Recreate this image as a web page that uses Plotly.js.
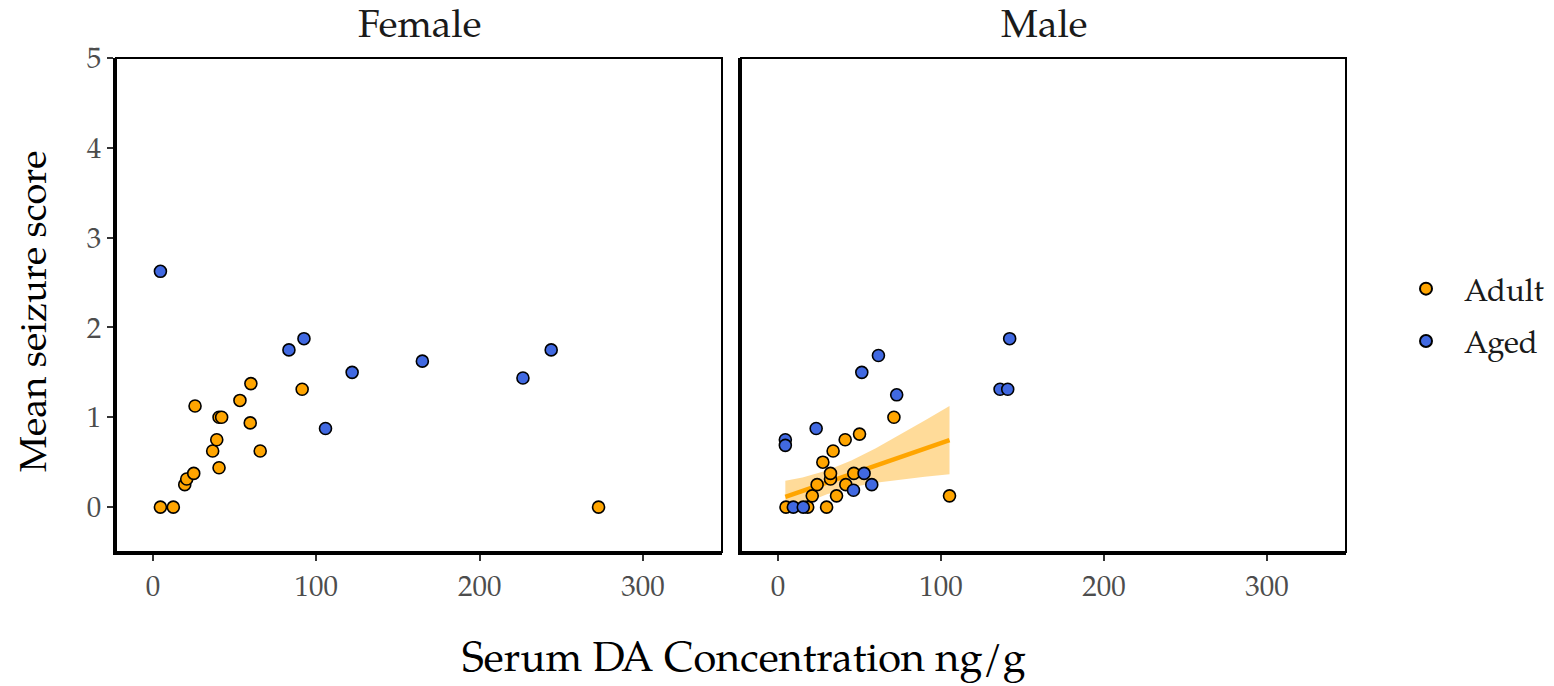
<!DOCTYPE html>
<html>
<head>
<meta charset="utf-8">
<script src="https://cdn.plot.ly/plotly-3.0.1.min.js"></script>
<style>
  html, body { margin: 0; padding: 0; background: #ffffff; }
  #chart { width: 1554px; height: 686px; }
</style>
</head>
<body>
<div id="chart"></div>
<script>
// ---- Data ----
const facets = ["Female", "Male"];
const groups = ["Adult", "Aged"];

const femaleAdultX = [4.5, 12.4, 19.4, 20.6, 24.9, 25.7, 36.5, 39.0, 40.4, 40.4, 42.0, 53.2, 59.5, 59.9, 65.6, 91.3, 272.8];
const femaleAdultY = [0, 0, 0.25, 0.3125, 0.375, 1.125, 0.625, 0.75, 0.4375, 1.0, 1.0, 1.1875, 0.9375, 1.375, 0.625, 1.3125, 0];

const femaleAgedX = [4.5, 83.2, 92.4, 105.6, 121.9, 164.9, 226.5, 243.8];
const femaleAgedY = [2.625, 1.75, 1.875, 0.875, 1.5, 1.625, 1.4375, 1.75];

const maleAdultX = [4.9, 18.2, 29.8, 21.0, 35.9, 105.2, 24.0, 41.6, 32.2, 32.2, 46.5, 27.5, 33.8, 41.2, 50.0, 71.1];
const maleAdultY = [0, 0, 0, 0.125, 0.125, 0.125, 0.25, 0.25, 0.3125, 0.375, 0.375, 0.5, 0.625, 0.75, 0.8125, 1.0];

const maleAgedX = [9.4, 15.5, 4.5, 4.5, 23.4, 46.3, 57.5, 52.8, 51.4, 61.6, 72.8, 136.2, 140.9, 142.1];
const maleAgedY = [0, 0, 0.75, 0.6875, 0.875, 0.1875, 0.25, 0.375, 1.5, 1.6875, 1.25, 1.3125, 1.3125, 1.875];

// Fitted trend (Male, Adult) and its confidence band
const fitX     = [4.5, 15, 30, 45, 60, 75, 90, 105.2];
const fitY     = [0.115, 0.181, 0.275, 0.369, 0.463, 0.557, 0.651, 0.746];
const fitUpper = [0.293, 0.330, 0.406, 0.518, 0.656, 0.807, 0.964, 1.125];
const fitLower = [-0.063, 0.032, 0.144, 0.220, 0.270, 0.307, 0.338, 0.367];

const xTicks = [0, 100, 200, 300];
const yTicks = [0, 1, 2, 3, 4, 5];

// ---- Styling ----
const FONT = "Palatino Linotype, Palatino, 'Book Antiqua', 'TeX Gyre Pagella', 'Liberation Serif', serif";
const colAdult = "#FFA500";
const colAged = "#4169E1";
const markerStyle = (c) => ({ color: c, size: 12, line: { color: "#000000", width: 1.6 } });

const traces = [];

// ribbon
traces.push({
  type: "scatter", mode: "lines",
  x: fitX.concat(fitX.slice().reverse()),
  y: fitUpper.concat(fitLower.slice().reverse()),
  xaxis: "x2", yaxis: "y2",
  fill: "toself", fillcolor: "rgba(255,165,0,0.4)",
  line: { width: 0, color: "rgba(0,0,0,0)" },
  hoverinfo: "skip", showlegend: false
});
// fit line
traces.push({
  type: "scatter", mode: "lines",
  x: fitX, y: fitY, xaxis: "x2", yaxis: "y2",
  line: { color: colAdult, width: 4.5 },
  showlegend: false
});

// points
traces.push({ type: "scatter", mode: "markers", name: "Adult", legendgroup: "Adult",
  x: femaleAdultX, y: femaleAdultY, xaxis: "x", yaxis: "y", marker: markerStyle(colAdult), showlegend: true });
traces.push({ type: "scatter", mode: "markers", name: "Aged", legendgroup: "Aged",
  x: femaleAgedX, y: femaleAgedY, xaxis: "x", yaxis: "y", marker: markerStyle(colAged), showlegend: true });
traces.push({ type: "scatter", mode: "markers", name: "Adult", legendgroup: "Adult",
  x: maleAdultX, y: maleAdultY, xaxis: "x2", yaxis: "y2", marker: markerStyle(colAdult), showlegend: false });
traces.push({ type: "scatter", mode: "markers", name: "Aged", legendgroup: "Aged",
  x: maleAgedX, y: maleAgedY, xaxis: "x2", yaxis: "y2", marker: markerStyle(colAged), showlegend: false });

const W = 1554, H = 686;
const px = (v) => v / W;
const py = (v) => 1 - v / H;

const xAxisBase = {
  range: [-22.7, 348.4],
  tickvals: xTicks, ticktext: xTicks.map(String),
  ticks: "outside", ticklen: 6, tickwidth: 2, tickcolor: "#333333",
  tickfont: { family: FONT, size: 29, color: "#4d4d4d" },
  showline: true, linecolor: "#000000", linewidth: 3,
  showgrid: false, zeroline: false, automargin: false
};
const yAxisBase = {
  range: [-0.5, 5],
  domain: [py(552), py(58)],
  tickvals: yTicks, ticktext: yTicks.map(String),
  ticks: "outside", ticklen: 6, tickwidth: 2, tickcolor: "#333333",
  tickfont: { family: FONT, size: 29, color: "#4d4d4d" },
  showline: true, linecolor: "#000000", linewidth: 3,
  showgrid: false, zeroline: false, automargin: false
};

const layout = {
  width: W, height: H,
  margin: { l: 0, r: 0, t: 0, b: 0, pad: 0 },
  paper_bgcolor: "#ffffff", plot_bgcolor: "#ffffff",
  font: { family: FONT, color: "#1a1a1a" },
  xaxis: Object.assign({}, xAxisBase, { domain: [px(116), px(722)], anchor: "y" }),
  yaxis: Object.assign({}, yAxisBase, { anchor: "x" }),
  xaxis2: Object.assign({}, xAxisBase, { domain: [px(741), px(1346)], anchor: "y2" }),
  yaxis2: Object.assign({}, yAxisBase, { anchor: "x2", matches: "y", showticklabels: false, ticks: "" }),
  showlegend: true,
  legend: {
    x: px(1388), y: py(315), xanchor: "left", yanchor: "middle",
    font: { family: FONT, size: 31, color: "#1a1a1a" },
    traceorder: "grouped", tracegroupgap: 9, itemwidth: 66,
    bgcolor: "rgba(0,0,0,0)", itemsizing: "constant"
  },
  shapes: [
    { type: "rect", xref: "x domain", yref: "y domain", x0: 0, x1: 1, y0: 0, y1: 1,
      line: { color: "#000000", width: 2 }, fillcolor: "rgba(0,0,0,0)", layer: "above" },
    { type: "rect", xref: "x2 domain", yref: "y2 domain", x0: 0, x1: 1, y0: 0, y1: 1,
      line: { color: "#000000", width: 2 }, fillcolor: "rgba(0,0,0,0)", layer: "above" }
  ],
  annotations: [
    { text: facets[0], xref: "paper", yref: "paper", x: px(419), y: py(28),
      xanchor: "center", yanchor: "middle", showarrow: false,
      font: { family: FONT, size: 39, color: "#1a1a1a" } },
    { text: facets[1], xref: "paper", yref: "paper", x: px(1044), y: py(28),
      xanchor: "center", yanchor: "middle", showarrow: false,
      font: { family: FONT, size: 39, color: "#1a1a1a" } },
    { text: "Serum DA Concentration ng/g", xref: "paper", yref: "paper", x: px(744), y: py(662),
      xanchor: "center", yanchor: "middle", showarrow: false,
      font: { family: FONT, size: 41.5, color: "#000000" } },
    { text: "Mean seizure score", xref: "paper", yref: "paper", x: px(37), y: py(311),
      xanchor: "center", yanchor: "middle", showarrow: false, textangle: -90,
      font: { family: FONT, size: 38, color: "#000000" } }
  ]
};

Plotly.newPlot("chart", traces, layout, { displayModeBar: false, staticPlot: true });
</script>
</body>
</html>
